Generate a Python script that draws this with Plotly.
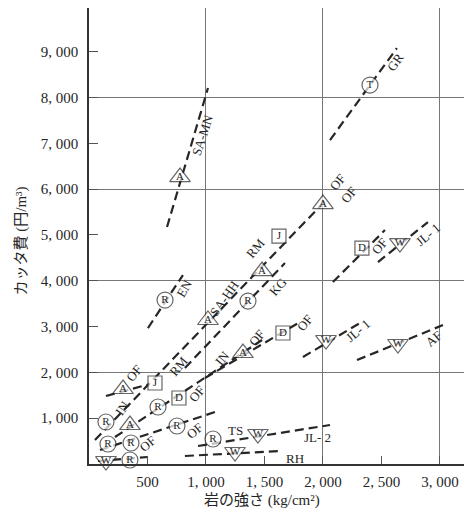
import plotly.graph_objects as go

# dashed trend segments (rock strength kg/cm2, cutter cost yen/m3)
seg_x0 = [667, 2060, 504, 51, 820, 222, 991, 94, 77, 932, 820, 2085, 2470, 1829, 2291, 145]
seg_y0 = [5174, 7073, 2969, 524, 2096, 589, 1877, 306, 65, 393, 175, 3973, 4410, 2336, 2270, 1484]
seg_x1 = [1017, 2632, 803, 2043, 1675, 1479, 1803, 1077, 504, 2060, 1632, 2530, 2897, 2316, 3026, 521]
seg_y1 = [8208, 9081, 4126, 5807, 4388, 2707, 3100, 1135, 153, 851, 284, 5108, 5283, 3078, 3034, 1746]

# machine markers
mk_x = [778, 2402, 650, 2000, 1624, 1479, 1359, 1017, 564, 291, 145, 350, 590, 769, 1316, 1658,
        162, 359, 752, 145, 350, 1060, 1444, 1248, 2333, 2658, 2026, 2641]
mk_y = [6265, 8274, 3580, 5676, 4977, 4213, 3558, 3144, 1768, 1637, 917, 851, 1244, 1441, 2423, 2860,
        437, 458, 830, 65, 87, 546, 655, 262, 4715, 4824, 2707, 2620]
mk_letter = ["A", "T", "R", "A", "J", "A", "R", "A", "J", "A", "R", "A", "R", "D", "A", "D",
             "R", "R", "R", "W", "R", "R", "W", "W", "D", "W", "W", "W"]

# rock type labels
lab_text = ["SA-MN", "GR", "EN", "OF", "OF", "RM", "KG", "SA-HH", "RM", "OF", "IN", "OF", "IN", "OF",
            "OF", "OF", "OF", "TS", "JL- 2", "RH", "OF", "JL- 1", "JL- 1", "AF"]
lab_x = [966, 2615, 812, 2120, 2222, 1419, 1615, 1154, 761, 393, 282, 923, 1137, 1436, 1846, 504,
         906, 1256, 1957, 1761, 2479, 2897, 2299, 2949]
lab_y = [7182, 8776, 3842, 6156, 5894, 4715, 3886, 3624, 2139, 1987, 1222, 1550, 2314, 2772, 3100, 458,
         742, 742, 568, 131, 4759, 5021, 2925, 2751]
lab_angle = [-72, -55, -60, -50, -50, -50, -50, -55, -50, -50, -55, -50, -50, -50, -50, -40,
             -40, 0, 0, 0, -50, -40, -40, -40]

x_ticks = [500, 1000, 1500, 2000, 2500, 3000]
x_ticktext = ["500", "1, 000", "1, 500", "2, 000", "2, 500", "3, 000"]
y_ticks = [1000, 2000, 3000, 4000, 5000, 6000, 7000, 8000, 9000]
y_ticktext = ["1, 000", "2, 000", "3, 000", "4, 000", "5, 000", "6, 000", "7, 000", "8, 000", "9, 000"]

shape_of = {"R": "circle", "T": "circle", "A": "triangle-up", "J": "square", "D": "square",
            "W": "triangle-down"}
size_of = {"circle": 16, "triangle-up": 18, "square": 14, "triangle-down": 18}

FONT = "Liberation Serif, Noto Sans CJK JP, serif"
INK = "#262626"

fig = go.Figure()
for x0, y0, x1, y1 in zip(seg_x0, seg_y0, seg_x1, seg_y1):
    fig.add_trace(go.Scatter(x=[x0, x1], y=[y0, y1], mode="lines",
                             line=dict(color=INK, width=2.2, dash="9px,5px"),
                             hoverinfo="skip", showlegend=False, cliponaxis=False))

syms = [shape_of[c] for c in mk_letter]
fig.add_trace(go.Scatter(
    x=mk_x, y=mk_y, mode="markers+text", text=mk_letter, textposition="middle center",
    textfont=dict(family=FONT, size=11, color=INK),
    marker=dict(symbol=syms, size=[size_of[s] for s in syms], color="white",
                line=dict(color=INK, width=1.2)),
    showlegend=False, cliponaxis=False))

for t, x, y, a in zip(lab_text, lab_x, lab_y, lab_angle):
    fig.add_annotation(x=x, y=y, text=t, textangle=a, showarrow=False,
                       font=dict(family=FONT, size=13, color=INK))

fig.add_annotation(xref="paper", yref="paper", x=-0.175, y=0.49, text="カッタ費 (円/m³)",
                   xanchor="center", yanchor="middle",
                   textangle=-90, showarrow=False, font=dict(family=FONT, size=15, color=INK))
fig.add_annotation(xref="paper", yref="paper", x=0.452, y=-0.079, text="岩の強さ (kg/cm²)",
                   xanchor="center", yanchor="middle",
                   showarrow=False, font=dict(family=FONT, size=15, color=INK))

# page body has an 8px default margin, so the figure is 8px smaller on each side
fig.update_layout(
    width=464, height=508, margin=dict(l=81, r=0, t=0, b=52),
    paper_bgcolor="white", plot_bgcolor="white",
    font=dict(family=FONT, size=15, color=INK),
    xaxis=dict(range=[0, 3274], tickvals=x_ticks, ticktext=x_ticktext, ticks="inside",
               ticklen=8, tickcolor="#555", showgrid=False, zeroline=False, automargin=False,
               showline=True, linecolor="#333", linewidth=1.5, ticklabelstandoff=3,
               minor=dict(tickvals=[1000, 2000, 3000], showgrid=True, gridcolor="#777",
                          gridwidth=1, ticks="")),
    yaxis=dict(range=[0, 9956], tickvals=y_ticks, ticktext=y_ticktext, ticks="inside",
               ticklen=9, tickcolor="#555", showgrid=False, zeroline=False, automargin=False,
               showline=True, linecolor="#333", linewidth=1.5, ticklabelstandoff=6,
               minor=dict(tickvals=[2000, 4000, 6000, 8000], showgrid=True, gridcolor="#777",
                          gridwidth=1, ticks="")),
)

fig.write_html("out.html")
